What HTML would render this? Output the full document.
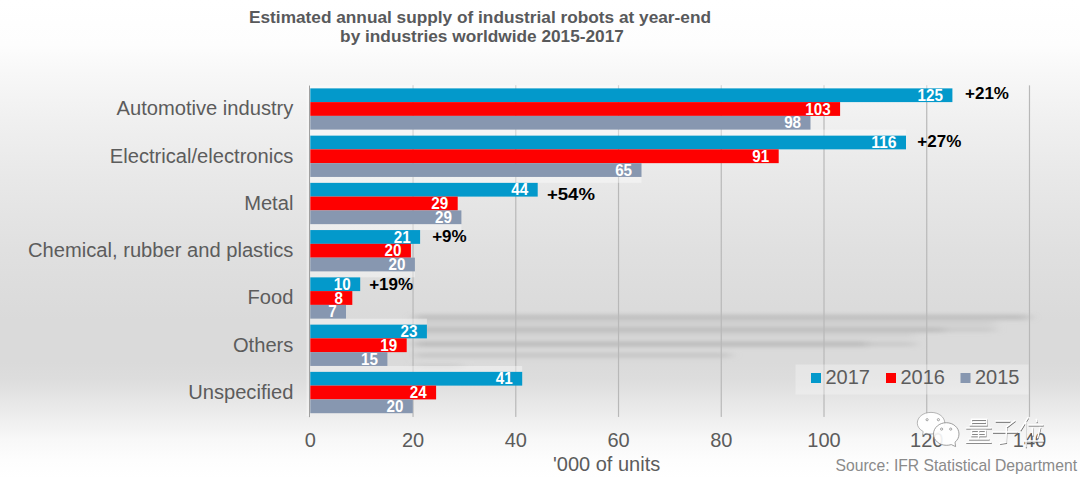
<!DOCTYPE html>
<html><head><meta charset="utf-8"><style>
html,body{margin:0;padding:0;width:1080px;height:478px;overflow:hidden;background:#fff}
svg{display:block}
text{font-family:"Liberation Sans",sans-serif}
</style></head><body>
<svg width="1080" height="478" viewBox="0 0 1080 478">
<defs>
<linearGradient id="bg" gradientUnits="userSpaceOnUse" x1="0" y1="0" x2="0" y2="478">
<stop offset="0.0000" stop-color="#ffffff"/>
<stop offset="0.0941" stop-color="#fdfdfd"/>
<stop offset="0.1464" stop-color="#f8f8f8"/>
<stop offset="0.2510" stop-color="#f0f0f0"/>
<stop offset="0.3766" stop-color="#e8e8e8"/>
<stop offset="0.5230" stop-color="#e0e0e0"/>
<stop offset="0.6695" stop-color="#dadada"/>
<stop offset="0.7573" stop-color="#dadada"/>
<stop offset="0.7950" stop-color="#dddddd"/>
<stop offset="0.8368" stop-color="#e6e6e6"/>
<stop offset="0.8787" stop-color="#efefef"/>
<stop offset="0.9205" stop-color="#f8f8f8"/>
<stop offset="0.9623" stop-color="#fdfdfd"/>
<stop offset="1.0000" stop-color="#ffffff"/>
</linearGradient>
<linearGradient id="gl" gradientUnits="userSpaceOnUse" x1="0" y1="290" x2="0" y2="378">
<stop offset="0.0000" stop-color="#a0a0a0" stop-opacity="0"/>
<stop offset="0.0006" stop-color="#a0a0a0" stop-opacity="0.85"/>
<stop offset="0.0017" stop-color="#a0a0a0" stop-opacity="0.85"/>
<stop offset="0.0021" stop-color="#a0a0a0" stop-opacity="0"/>
</linearGradient>
<linearGradient id="gridg" gradientUnits="userSpaceOnUse" x1="0" y1="85" x2="0" y2="417">
<stop offset="0.0000" stop-color="#d0d0d0"/>
<stop offset="0.0007" stop-color="#c2c2c2"/>
<stop offset="0.0014" stop-color="#b6b6b6"/>
<stop offset="0.0021" stop-color="#b8b8b8"/>
</linearGradient>
<linearGradient id="axg" gradientUnits="userSpaceOnUse" x1="0" y1="85" x2="0" y2="417">
<stop offset="0.0000" stop-color="#a8a8a8" stop-opacity="0"/>
<stop offset="0.0010" stop-color="#a8a8a8" stop-opacity="0.3"/>
<stop offset="0.0016" stop-color="#a8a8a8" stop-opacity="0.9"/>
<stop offset="0.0021" stop-color="#a0a0a0" stop-opacity="1"/>
</linearGradient>
<filter id="blur4" x="-5%" y="-100%" width="110%" height="300%"><feGaussianBlur stdDeviation="6 2.2"/></filter>
<filter id="wmblur" x="-20%" y="-20%" width="140%" height="140%"><feGaussianBlur stdDeviation="0.4"/></filter>
</defs>

<rect x="0" y="0" width="1080" height="478" fill="url(#bg)"/>
<text x="480" y="23" font-size="17.25" font-weight="700" fill="#58595b" text-anchor="middle">Estimated annual supply of industrial robots at year-end</text>
<text x="482" y="41.7" font-size="17.25" font-weight="700" fill="#58595b" text-anchor="middle">by industries worldwide 2015-2017</text>
<g filter="url(#blur4)">
<rect x="415" y="315" width="614" height="4.5" fill="#a0a0a0" opacity="0.55"/>
<rect x="415" y="321.5" width="580" height="3" fill="#b0b0b0" opacity="0.4"/>
<rect x="415" y="327.5" width="529" height="4.5" fill="#9c9c9c" opacity="0.55"/>
<rect x="944" y="327.5" width="51" height="4" fill="#b0b0b0" opacity="0.45"/>
<rect x="415" y="334" width="500" height="2.5" fill="#b0b0b0" opacity="0.35"/>
<rect x="415" y="341.5" width="452" height="5" fill="#9c9c9c" opacity="0.55"/>
<rect x="867" y="342" width="48" height="4" fill="#b0b0b0" opacity="0.45"/>
<rect x="415" y="353" width="315" height="4.5" fill="#a8a8a8" opacity="0.45"/>
<rect x="415" y="364" width="47" height="3.5" fill="#b0b0b0" opacity="0.35"/>
</g>
<rect x="412.44" y="85.38" width="1.2" height="331.55" fill="url(#gridg)"/>
<rect x="515.18" y="85.38" width="1.2" height="331.55" fill="url(#gridg)"/>
<rect x="617.92" y="85.38" width="1.2" height="331.55" fill="url(#gridg)"/>
<rect x="720.66" y="85.38" width="1.2" height="331.55" fill="url(#gridg)"/>
<rect x="823.40" y="85.38" width="1.2" height="331.55" fill="url(#gridg)"/>
<rect x="926.14" y="85.38" width="1.2" height="331.55" fill="url(#gridg)"/>
<rect x="1028.88" y="85.38" width="1.2" height="331.55" fill="url(#gridg)"/>
<rect x="412.44" y="290" width="1.2" height="88" fill="url(#gl)"/>
<rect x="515.18" y="290" width="1.2" height="88" fill="url(#gl)"/>
<rect x="617.92" y="290" width="1.2" height="88" fill="url(#gl)"/>
<rect x="720.66" y="290" width="1.2" height="88" fill="url(#gl)"/>
<rect x="823.40" y="290" width="1.2" height="88" fill="url(#gl)"/>
<rect x="926.14" y="290" width="1.2" height="88" fill="url(#gl)"/>
<rect x="1028.88" y="290" width="1.2" height="88" fill="url(#gl)"/>
<rect x="306.5" y="85.38" width="3" height="330.75" fill="#ffffff" opacity="0.35"/>
<rect x="309" y="85.38" width="1" height="331.75" fill="url(#axg)"/>
<rect x="310.30" y="88.30" width="642.10" height="13.80" fill="#0399cb"/>
<text x="917.60" y="100.80" font-size="16.2" font-weight="700" fill="#fff" textLength="25.40" lengthAdjust="spacingAndGlyphs">125</text>
<rect x="310.30" y="102.10" width="529.80" height="13.80" fill="#fe0000"/>
<text x="805.30" y="114.60" font-size="16.2" font-weight="700" fill="#fff" textLength="25.40" lengthAdjust="spacingAndGlyphs">103</text>
<rect x="310.30" y="115.90" width="500.20" height="13.80" fill="#8797b0"/>
<text x="784.17" y="128.40" font-size="16.2" font-weight="700" fill="#fff" textLength="16.93" lengthAdjust="spacingAndGlyphs">98</text>
<text x="293.4" y="115.40" font-size="20.15" fill="#5c5c5c" text-anchor="end">Automotive industry</text>
<rect x="310.30" y="135.55" width="595.70" height="13.80" fill="#0399cb"/>
<text x="871.20" y="148.05" font-size="16.2" font-weight="700" fill="#fff" textLength="25.40" lengthAdjust="spacingAndGlyphs">116</text>
<rect x="310.30" y="149.35" width="468.40" height="13.80" fill="#fe0000"/>
<text x="752.37" y="161.85" font-size="16.2" font-weight="700" fill="#fff" textLength="16.93" lengthAdjust="spacingAndGlyphs">91</text>
<rect x="310.30" y="163.15" width="331.20" height="13.80" fill="#8797b0"/>
<text x="615.17" y="175.65" font-size="16.2" font-weight="700" fill="#fff" textLength="16.93" lengthAdjust="spacingAndGlyphs">65</text>
<text x="293.4" y="162.65" font-size="20.15" fill="#5c5c5c" text-anchor="end">Electrical/electronics</text>
<rect x="310.30" y="182.80" width="227.40" height="13.80" fill="#0399cb"/>
<text x="511.37" y="195.30" font-size="16.2" font-weight="700" fill="#fff" textLength="16.93" lengthAdjust="spacingAndGlyphs">44</text>
<rect x="310.30" y="196.60" width="147.40" height="13.80" fill="#fe0000"/>
<text x="431.37" y="209.10" font-size="16.2" font-weight="700" fill="#fff" textLength="16.93" lengthAdjust="spacingAndGlyphs">29</text>
<rect x="310.30" y="210.40" width="151.10" height="13.80" fill="#8797b0"/>
<text x="435.07" y="222.90" font-size="16.2" font-weight="700" fill="#fff" textLength="16.93" lengthAdjust="spacingAndGlyphs">29</text>
<text x="293.4" y="209.90" font-size="20.15" fill="#5c5c5c" text-anchor="end">Metal</text>
<rect x="310.30" y="230.05" width="109.80" height="13.80" fill="#0399cb"/>
<text x="393.77" y="242.55" font-size="16.2" font-weight="700" fill="#fff" textLength="16.93" lengthAdjust="spacingAndGlyphs">21</text>
<rect x="310.30" y="243.85" width="100.60" height="13.80" fill="#fe0000"/>
<text x="384.57" y="256.35" font-size="16.2" font-weight="700" fill="#fff" textLength="16.93" lengthAdjust="spacingAndGlyphs">20</text>
<rect x="310.30" y="257.65" width="104.60" height="13.80" fill="#8797b0"/>
<text x="388.57" y="270.15" font-size="16.2" font-weight="700" fill="#fff" textLength="16.93" lengthAdjust="spacingAndGlyphs">20</text>
<text x="293.4" y="257.15" font-size="20.15" fill="#5c5c5c" text-anchor="end">Chemical, rubber and plastics</text>
<rect x="310.30" y="277.30" width="49.90" height="13.80" fill="#0399cb"/>
<text x="333.87" y="289.80" font-size="16.2" font-weight="700" fill="#fff" textLength="16.93" lengthAdjust="spacingAndGlyphs">10</text>
<rect x="310.30" y="291.10" width="42.00" height="13.80" fill="#fe0000"/>
<text x="334.43" y="303.60" font-size="16.2" font-weight="700" fill="#fff" textLength="8.47" lengthAdjust="spacingAndGlyphs">8</text>
<rect x="310.30" y="304.90" width="35.70" height="13.80" fill="#8797b0"/>
<text x="328.13" y="317.40" font-size="16.2" font-weight="700" fill="#fff" textLength="8.47" lengthAdjust="spacingAndGlyphs">7</text>
<text x="293.4" y="304.40" font-size="20.15" fill="#5c5c5c" text-anchor="end">Food</text>
<rect x="310.30" y="324.55" width="116.60" height="13.80" fill="#0399cb"/>
<text x="400.57" y="337.05" font-size="16.2" font-weight="700" fill="#fff" textLength="16.93" lengthAdjust="spacingAndGlyphs">23</text>
<rect x="310.30" y="338.35" width="96.40" height="13.80" fill="#fe0000"/>
<text x="380.37" y="350.85" font-size="16.2" font-weight="700" fill="#fff" textLength="16.93" lengthAdjust="spacingAndGlyphs">19</text>
<rect x="310.30" y="352.15" width="77.10" height="13.80" fill="#8797b0"/>
<text x="361.07" y="364.65" font-size="16.2" font-weight="700" fill="#fff" textLength="16.93" lengthAdjust="spacingAndGlyphs">15</text>
<text x="293.4" y="351.65" font-size="20.15" fill="#5c5c5c" text-anchor="end">Others</text>
<rect x="310.30" y="371.80" width="211.90" height="13.80" fill="#0399cb"/>
<text x="495.87" y="384.30" font-size="16.2" font-weight="700" fill="#fff" textLength="16.93" lengthAdjust="spacingAndGlyphs">41</text>
<rect x="310.30" y="385.60" width="125.80" height="13.80" fill="#fe0000"/>
<text x="409.77" y="398.10" font-size="16.2" font-weight="700" fill="#fff" textLength="16.93" lengthAdjust="spacingAndGlyphs">24</text>
<rect x="310.30" y="399.40" width="102.50" height="13.80" fill="#8797b0"/>
<text x="386.47" y="411.90" font-size="16.2" font-weight="700" fill="#fff" textLength="16.93" lengthAdjust="spacingAndGlyphs">20</text>
<text x="293.4" y="398.90" font-size="20.15" fill="#5c5c5c" text-anchor="end">Unspecified</text>
<rect x="310.30" y="129.70" width="595.70" height="5.85" fill="#ffffff" opacity="0.4"/>
<rect x="310.30" y="176.95" width="331.20" height="5.85" fill="#ffffff" opacity="0.4"/>
<rect x="310.30" y="224.20" width="151.10" height="5.85" fill="#ffffff" opacity="0.4"/>
<rect x="310.30" y="271.45" width="104.60" height="5.85" fill="#ffffff" opacity="0.4"/>
<rect x="310.30" y="318.70" width="116.60" height="5.85" fill="#ffffff" opacity="0.4"/>
<rect x="310.30" y="365.95" width="211.90" height="5.85" fill="#ffffff" opacity="0.4"/>
<rect x="310.30" y="85.30" width="642.10" height="3" fill="#ffffff" opacity="0.4"/>
<text x="965.00" y="99.00" font-size="17" font-weight="700" fill="#000">+21%</text>
<text x="917.30" y="146.70" font-size="17" font-weight="700" fill="#000">+27%</text>
<text x="546.90" y="199.80" font-size="17" font-weight="700" fill="#000" textLength="48" lengthAdjust="spacingAndGlyphs">+54%</text>
<text x="432.20" y="241.60" font-size="17" font-weight="700" fill="#000">+9%</text>
<text x="369.20" y="289.50" font-size="17" font-weight="700" fill="#000">+19%</text>
<text x="310.30" y="447" font-size="20" fill="#5c5c5c" text-anchor="middle">0</text>
<text x="413.04" y="447" font-size="20" fill="#5c5c5c" text-anchor="middle">20</text>
<text x="515.78" y="447" font-size="20" fill="#5c5c5c" text-anchor="middle">40</text>
<text x="618.52" y="447" font-size="20" fill="#5c5c5c" text-anchor="middle">60</text>
<text x="721.26" y="447" font-size="20" fill="#5c5c5c" text-anchor="middle">80</text>
<text x="824.00" y="447" font-size="20" fill="#5c5c5c" text-anchor="middle">100</text>
<text x="926.74" y="447" font-size="20" fill="#5c5c5c" text-anchor="middle">120</text>
<text x="1029.48" y="447" font-size="20" fill="#5c5c5c" text-anchor="middle">140</text>
<text x="553" y="471" font-size="20" fill="#5c5c5c">'000 of units</text>
<text x="1077" y="470.8" font-size="15.7" fill="#8a8a8a" text-anchor="end">Source: IFR Statistical Department</text>
<rect x="795.5" y="364.5" width="233" height="30" fill="#ffffff" opacity="0.3"/>
<rect x="811" y="373" width="10" height="10" fill="#0399cb"/>
<text x="825.5" y="384.3" font-size="20" fill="#5c5c5c">2017</text>
<rect x="886" y="373" width="10" height="10" fill="#fe0000"/>
<text x="900.5" y="384.3" font-size="20" fill="#5c5c5c">2016</text>
<rect x="960.5" y="373" width="10" height="10" fill="#8797b0"/>
<text x="975.0" y="384.3" font-size="20" fill="#5c5c5c">2015</text>
<g filter="url(#wmblur)">
<path d="M931 412.4 C939 412.4 944.8 417.2 944.8 423.2 C944.8 429.2 939 434 931 434 C929 434 927.5 433.8 926 433.3 L922.5 435.2 L923.2 431.5 C919.5 429.5 917.3 426.5 917.3 423.2 C917.3 417.2 923 412.4 931 412.4 Z" fill="#ffffff" fill-opacity="0.92" stroke="#9a9a9a" stroke-width="0.7"/>
<circle cx="927.1" cy="419.7" r="1.1" fill="#fff" stroke="#808080" stroke-width="0.7"/><circle cx="938.4" cy="419.7" r="1.1" fill="#fff" stroke="#808080" stroke-width="0.7"/>
<path d="M946.3 422.7 C953.3 422.7 959 427.7 959 434 C959 437.3 957.5 440.2 955 442.2 L955.6 446.6 L951.3 444.6 C949.7 445.1 948 445.3 946.3 445.3 C939.3 445.3 933.5 440.3 933.5 434 C933.5 427.7 939.3 422.7 946.3 422.7 Z" fill="#ffffff" fill-opacity="0.9" stroke="#888" stroke-width="0.8"/>
<circle cx="941.6" cy="429.1" r="1.1" fill="#fff" stroke="#808080" stroke-width="0.7"/><circle cx="950.7" cy="429.1" r="1.1" fill="#fff" stroke="#808080" stroke-width="0.7"/>
<path opacity="0.85" transform="translate(0.4 0)" d="M971.5 420.2L986.8 420.2M971.5 420.2L971.5 425.9M986.8 420.2L986.8 425.9M971.5 423.2L985 423.2M970 425.9L986.8 425.9M966.5 428.79999999999995L991 428.79999999999995M971.5 431.4L985.5 431.4M971.5 431.4L971.5 436.59999999999997M985.5 431.4L985.5 436.59999999999997M971.5 434.09999999999997L985.5 434.09999999999997M971.5 436.59999999999997L985.5 436.59999999999997M978.6 431.4L978.6 439.79999999999995M969.3 439.79999999999995L988.6 439.79999999999995M966.5 443.4L990.7 443.4M996 422.0L1009.5 422.0M1014.5 421.7L1006.7 427.7M1006.4 427.7L1006 443.4M1006 443.4L1000.3 444.09999999999997M993.2 433.0L1016.7 433.0M1027.7 418.9L1020.6 430.59999999999997M1026 423.5L1026 447.7M1036.2 420.4L1036.8 422.59999999999997M1028.9 425.79999999999995L1042.7 425.79999999999995M1032.3 428.9L1032.8 435.9M1040.2 428.5L1037.7 438.5M1024.7 441.9L1043.1 441.9" stroke="#4a4a4a" stroke-width="1.25" fill="none" stroke-linecap="square"/>
<path d="M971.5 419.3L986.8 419.3M971.5 419.3L971.5 425M986.8 419.3L986.8 425M971.5 422.3L985 422.3M970 425L986.8 425M966.5 427.9L991 427.9M971.5 430.5L985.5 430.5M971.5 430.5L971.5 435.7M985.5 430.5L985.5 435.7M971.5 433.2L985.5 433.2M971.5 435.7L985.5 435.7M978.6 430.5L978.6 438.9M969.3 438.9L988.6 438.9M966.5 442.5L990.7 442.5M996 421.1L1009.5 421.1M1014.5 420.8L1006.7 426.8M1006.4 426.8L1006 442.5M1006 442.5L1000.3 443.2M993.2 432.1L1016.7 432.1M1027.7 418L1020.6 429.7M1026 422.6L1026 446.8M1036.2 419.5L1036.8 421.7M1028.9 424.9L1042.7 424.9M1032.3 428L1032.8 435M1040.2 427.6L1037.7 437.6M1024.7 441L1043.1 441" stroke="#ffffff" stroke-width="1.5" fill="none" stroke-linecap="square"/>
</g>
</svg></body></html>
